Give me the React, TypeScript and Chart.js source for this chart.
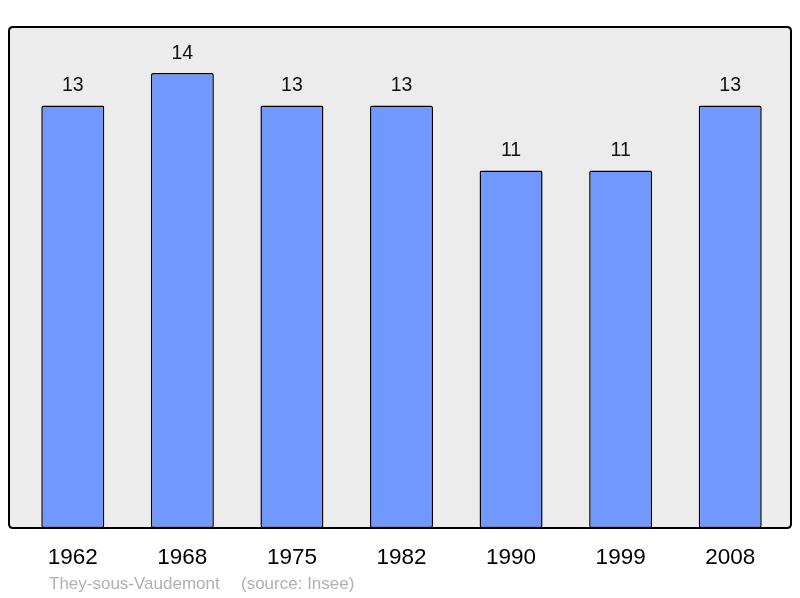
import React, { useEffect, useRef } from "react";
import { Chart, registerables } from "chart.js";

Chart.register(...registerables);

const categories = ["1962", "1968", "1975", "1982", "1990", "1999", "2008"];
const population = [13, 14, 13, 13, 11, 11, 13];
const footerName = "They-sous-Vaudemont";
const footerSource = "(source: Insee)";

const FONT = "'Liberation Sans', Arial, sans-serif";

export default function App() {
  const ref = useRef<HTMLCanvasElement | null>(null);

  useEffect(() => {
    const canvas = ref.current;
    if (!canvas) return;

    const framePlugin = {
      id: "frame",
      beforeDatasetsDraw(chart: any) {
        const ctx = chart.ctx;
        ctx.save();
        ctx.beginPath();
        const x = 9, y = 27, w = 782, h = 501, r = 4;
        ctx.moveTo(x + r, y);
        ctx.lineTo(x + w - r, y);
        ctx.quadraticCurveTo(x + w, y, x + w, y + r);
        ctx.lineTo(x + w, y + h - r);
        ctx.quadraticCurveTo(x + w, y + h, x + w - r, y + h);
        ctx.lineTo(x + r, y + h);
        ctx.quadraticCurveTo(x, y + h, x, y + h - r);
        ctx.lineTo(x, y + r);
        ctx.quadraticCurveTo(x, y, x + r, y);
        ctx.closePath();
        ctx.fillStyle = "#ececec";
        ctx.fill();
        ctx.lineWidth = 2;
        ctx.strokeStyle = "#000";
        ctx.stroke();
        ctx.restore();
      },
      afterDatasetsDraw(chart: any) {
        const ctx = chart.ctx;
        const meta = chart.getDatasetMeta(0);
        ctx.save();
        ctx.fillStyle = "#111";
        ctx.font = `19.5px ${FONT}`;
        ctx.textAlign = "center";
        ctx.textBaseline = "alphabetic";
        meta.data.forEach((bar: any, i: number) => {
          ctx.fillText(String(population[i]), bar.x, bar.y - 14);
        });
        ctx.fillStyle = "#b0b0b0";
        ctx.font = `17px ${FONT}`;
        ctx.textAlign = "left";
        ctx.fillText(footerName, 49, 589);
        ctx.fillText(footerSource, 241, 589);
        ctx.restore();
      },
    };

    const chart = new Chart(canvas, {
      type: "bar",
      data: {
        labels: categories,
        datasets: [
          {
            data: population,
            backgroundColor: "#7098ff",
            borderColor: "#000",
            borderWidth: 1.5,
            borderRadius: 2,
            borderSkipped: false,
            categoryPercentage: 1,
            barPercentage: 0.575,
          },
        ],
      },
      options: {
        responsive: false,
        animation: false,
        layout: { padding: { left: 18, right: 15, top: 27, bottom: 10 } },
        plugins: {
          legend: { display: false },
          tooltip: { enabled: false },
        },
        scales: {
          x: {
            grid: { display: false, drawTicks: false },
            border: { display: false },
            ticks: {
              color: "#000",
              font: { family: FONT, size: 22.5 },
              padding: 16.5,
              maxRotation: 0,
            },
          },
          y: {
            display: false,
            min: 0,
            max: 15.415,
          },
        },
      },
      plugins: [framePlugin],
    });

    return () => chart.destroy();
  }, []);

  return (
    <div style={{ position: "absolute", left: 0, top: 0, width: 800, height: 598, background: "#fff" }}>
      <canvas ref={ref} width={800} height={598} style={{ width: 800, height: 598, display: "block" }} />
    </div>
  );
}
